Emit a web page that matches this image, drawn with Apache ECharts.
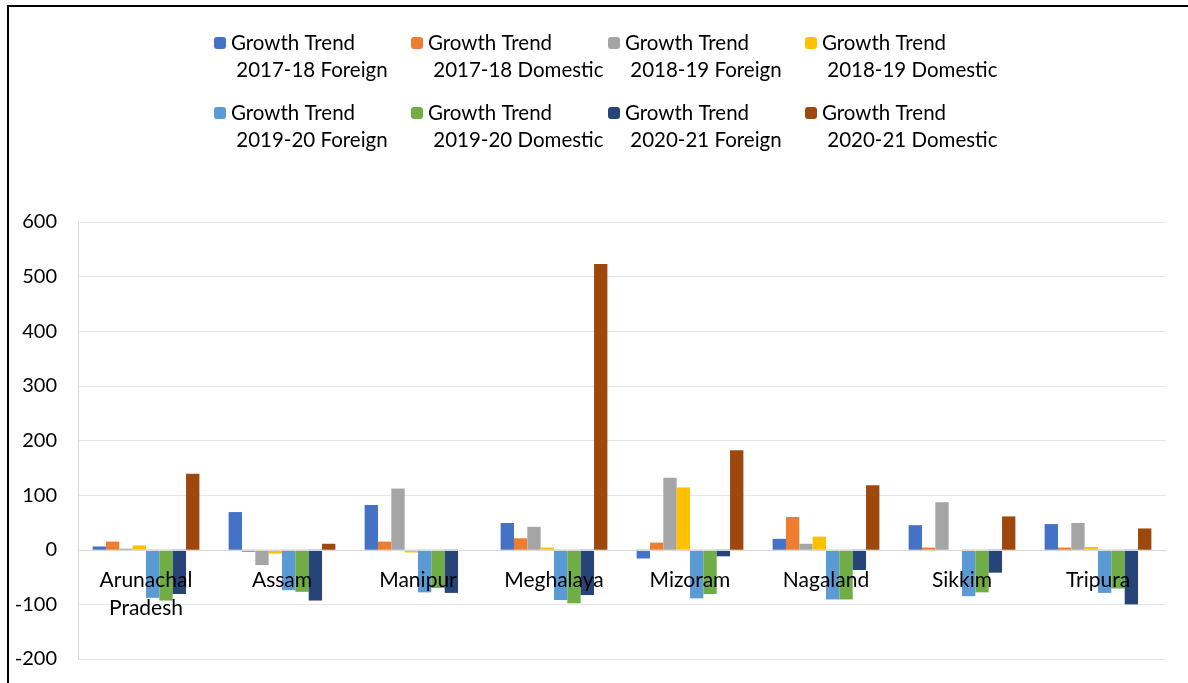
<!DOCTYPE html>
<html>
<head>
<meta charset="utf-8">
<script src="https://cdn.jsdelivr.net/npm/echarts@6/dist/echarts.min.js"></script>
<style>
  html, body { margin: 0; padding: 0; background: #fff; }
  #chart { position: absolute; left: 0; top: 0; width: 1188px; height: 683px; }
  #frame { position: absolute; left: 7px; top: 5px; width: 1300px; height: 800px;
           border-left: 2px solid #000; border-top: 2px solid #000; pointer-events: none; }
</style>
</head>
<body>
<div id="chart"></div>
<div id="frame"></div>
<script>
// states on the x axis
const states = ['Arunachal Pradesh', 'Assam', 'Manipur', 'Meghalaya', 'Mizoram', 'Nagaland', 'Sikkim', 'Tripura'];

// growth trend values (%)
const foreign1718  = [6, 69, 82, 49, -16, 20, 45, 47];
const domestic1718 = [15, -4, 15, 21, 13, 60, 4, 4];
const foreign1819  = [2, -28, 112, 42, 132, 11, 87, 49];
const domestic1819 = [8, -7, -5, 4, 114, 24, 0, 5];
const foreign1920  = [-88, -74, -78, -92, -89, -91, -85, -79];
const domestic1920 = [-93, -77, -70, -98, -81, -91, -78, -71];
const foreign2021  = [-81, -93, -79, -83, -12, -37, -42, -100];
const domestic2021 = [139, 11, 0, 523, 182, 118, 61, 39];

const seriesNames = [
  'Growth Trend 2017-18 Foreign', 'Growth Trend 2017-18 Domestic',
  'Growth Trend 2018-19 Foreign', 'Growth Trend 2018-19 Domestic',
  'Growth Trend 2019-20 Foreign', 'Growth Trend 2019-20 Domestic',
  'Growth Trend 2020-21 Foreign', 'Growth Trend 2020-21 Domestic'
];
const seriesValues = [foreign1718, domestic1718, foreign1819, domestic1819,
                      foreign1920, domestic1920, foreign2021, domestic2021];
const colors = ['#4472C4', '#ED7D31', '#A5A5A5', '#FFC000', '#5B9BD5', '#70AD47', '#264478', '#9E480E'];

const font = 'Lato, "Liberation Sans", sans-serif';
const yMin = -200, yMax = 600;
const gridTop = 222, gridBottom = 24, chartHeight = 683;

// one legend per item so the columns stay evenly spaced like the original
const legends = seriesNames.map((name, i) => ({
  data: [name],
  left: 214 + (i % 4) * 197,
  top: i < 4 ? 2.5 : 72.5,
  padding: 0,
  itemWidth: 12,
  itemHeight: 12,
  itemGap: 0,
  formatter: n => '\n' + n.replace('Growth Trend ', 'Growth Trend\n '),
  textStyle: { fontFamily: font, fontSize: 20.5, lineHeight: 27, color: '#000' }
}));

// category labels sit on the zero line, as in the Excel original
const plotHeight = chartHeight - gridTop - gridBottom;
const zeroOffset = -plotHeight * (0 - yMin) / (yMax - yMin);

const chart = echarts.init(document.getElementById('chart'));
chart.setOption({
  animation: false,
  color: colors,
  legend: legends,
  grid: { left: 78, right: 22, top: gridTop, bottom: gridBottom, outerBoundsMode: 'none', containLabel: false },
  xAxis: {
    type: 'category',
    data: states,
    offset: zeroOffset,
    axisTick: { show: false },
    axisLine: { onZero: false, lineStyle: { color: '#d9d9d9', width: 1 } },
    axisLabel: {
      fontFamily: font, fontSize: 21, lineHeight: 28, color: '#000', margin: 16,
      interval: 0,
      formatter: v => v.replace(' ', '\n')
    },
    z: 5
  },
  yAxis: {
    type: 'value',
    min: yMin,
    max: yMax,
    interval: 100,
    axisLine: { show: true, lineStyle: { color: '#d9d9d9' } },
    axisTick: { show: false },
    splitLine: { lineStyle: { color: '#e6e6e6', width: 1 } },
    axisLabel: { fontFamily: font, fontSize: 20, color: '#000', margin: 21 }
  },
  series: seriesNames.map((name, i) => ({
    name: name,
    type: 'bar',
    data: seriesValues[i],
    barGap: '0%',
    barCategoryGap: '21.5%',
    itemStyle: { color: colors[i] },
    z: 2
  }))
});
</script>
</body>
</html>
